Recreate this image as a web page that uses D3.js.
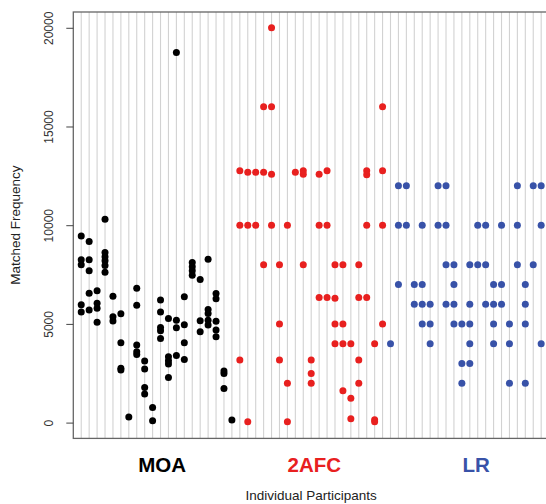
<!DOCTYPE html>
<html>
<head>
<meta charset="utf-8">
<script src="https://cdn.jsdelivr.net/npm/d3@7"></script>
<style>
  html, body { margin: 0; padding: 0; background: #fff; }
  svg { display: block; font-family: "Liberation Sans", Arial, Helvetica, sans-serif; }
</style>
</head>
<body>
<svg id="chart" width="546" height="504"></svg>
<script>
// ---- Data: each inner array = one participant's matched frequencies (Hz) ----
const groupNames = ["MOA", "2AFC", "LR"];
const groupColors = ["#000000", "#e8201f", "#3852a8"];

const moa = [
  [9450, 8250, 8000, 5970, 5600],
  [9170, 8250, 7690, 6550, 5700],
  [6680, 6040, 5790, 5090],
  [10300, 8620, 8400, 8200, 7960, 7620],
  [6400, 5360, 5150],
  [5520, 4050, 2750, 2660],
  [290],
  [6800, 5950, 3930, 3590, 3450],
  [3120, 2710, 1780, 1450],
  [770, 90],
  [6210, 5600, 4820, 4650, 4260],
  [5280, 3340, 3130, 2970, 2290],
  [18750, 5190, 4800, 3400],
  [6375, 4955, 4040, 3200],
  [8110, 7890, 7690, 7470],
  [7250, 5160, 4600],
  [8280, 5730, 5530, 5190, 4940],
  [6540, 6270, 5140, 4690, 4350],
  [2610, 2490, 1730],
  [130]
];

const afc = [
  [12760, 10000, 3170],
  [12680, 10000, 40],
  [12680, 10000],
  [16000, 12680, 8000],
  [20000, 16000, 12580, 10000],
  [8000, 5000, 3170],
  [10000, 2000, 40],
  [12680],
  [12760, 12580, 8000],
  [3170, 2490, 2000],
  [12580, 10000, 6340],
  [12760, 10000, 6340],
  [8000, 6300, 5000, 4000],
  [8000, 5000, 4000, 1610],
  [4000, 1240, 190],
  [8000, 6340, 3170, 2000],
  [12760, 12560, 10000, 6340],
  [4000, 150, 40],
  [16000, 12760, 10000, 5000]
];

const lr = [
  [4000],
  [12000, 10000, 7000],
  [12000, 10000],
  [7000, 6000],
  [10000, 7000, 6000, 5000],
  [6000, 5000, 4000],
  [12000, 10000],
  [12000, 10000, 8000, 6000],
  [8000, 7000, 6000, 5000],
  [5000, 3000, 2000],
  [8000, 6000, 5000, 4000, 3000],
  [10000, 8000],
  [10000, 8000, 6000],
  [7000, 6000, 5000, 4000],
  [10000, 7000, 6000],
  [5000, 4000, 2000],
  [12000, 10000, 8000],
  [7000, 6000, 5000, 2000],
  [12000, 8000],
  [12000, 10000, 4000]
];

const yTicks = [0, 5000, 10000, 15000, 20000];
const yTitle = "Matched Frequency";
const xTitle = "Individual Participants";

// ---- Build participant table ----
const groups = [moa, afc, lr];
const participants = [];
groups.forEach((g, gi) => g.forEach(vals => participants.push({ group: gi, vals })));
const nPart = participants.length;
const points = [];
participants.forEach((p, i) => p.vals.forEach(v => points.push({ i, v, group: p.group })));

// ---- Scales ----
const svg = d3.select("#chart");
const colStep = 7.93;
const plotLeft = 73.3, plotTop = 12, plotBottom = 438.4;
const x = d3.scaleLinear().domain([-1, nPart]).range([plotLeft, plotLeft + (nPart + 1) * colStep]);
const y = d3.scaleLinear().domain([-800, 20800]).range([plotBottom, plotTop]);
const plotRight = x(nPart);

// vertical participant lines
svg.append("g")
  .selectAll("line")
  .data(d3.range(nPart))
  .join("line")
  .attr("x1", d => x(d)).attr("x2", d => x(d))
  .attr("y1", plotTop).attr("y2", plotBottom)
  .attr("stroke", "#d2d2d2")
  .attr("stroke-width", 1.1);

// points
svg.append("g")
  .selectAll("circle")
  .data(points)
  .join("circle")
  .attr("cx", d => x(d.i))
  .attr("cy", d => y(d.v))
  .attr("r", 3.5)
  .attr("fill", d => groupColors[d.group]);

// plot box
svg.append("rect")
  .attr("x", plotLeft).attr("y", plotTop)
  .attr("width", plotRight - plotLeft).attr("height", plotBottom - plotTop)
  .attr("fill", "none")
  .attr("stroke", "#666")
  .attr("stroke-width", 1.3);

// y axis (R-style, rotated labels)
const yAxis = d3.axisLeft(y).tickValues(yTicks).tickSize(7).tickPadding(3).tickFormat(d3.format("d"));
const gy = svg.append("g").attr("transform", `translate(${plotLeft},0)`).call(yAxis);
gy.select(".domain").remove();
gy.selectAll(".tick line").attr("stroke", "#444").attr("stroke-width", 1);
gy.selectAll(".tick text")
  .attr("x", null).attr("dy", null)
  .attr("text-anchor", "middle")
  .attr("transform", "translate(-20,0) rotate(-90)")
  .attr("fill", "#333")
  .style("font-size", "12px");

// axis titles
svg.append("text")
  .attr("transform", `translate(20,${(plotTop + plotBottom) / 2}) rotate(-90)`)
  .attr("text-anchor", "middle")
  .attr("fill", "#222")
  .style("font-size", "13.5px")
  .text(yTitle);

svg.append("text")
  .attr("x", (plotLeft + plotRight) / 2).attr("y", 500)
  .attr("text-anchor", "middle")
  .attr("fill", "#222")
  .style("font-size", "13.5px")
  .text(xTitle);

// group labels
const groupLabelCols = [10.2, 29.4, 49.8];
svg.append("g")
  .selectAll("text")
  .data(groupNames)
  .join("text")
  .attr("x", (d, i) => x(groupLabelCols[i]))
  .attr("y", 472)
  .attr("text-anchor", "middle")
  .attr("fill", (d, i) => groupColors[i])
  .style("font-size", "20.5px")
  .style("font-weight", "bold")
  .text(d => d);
</script>
</body>
</html>
